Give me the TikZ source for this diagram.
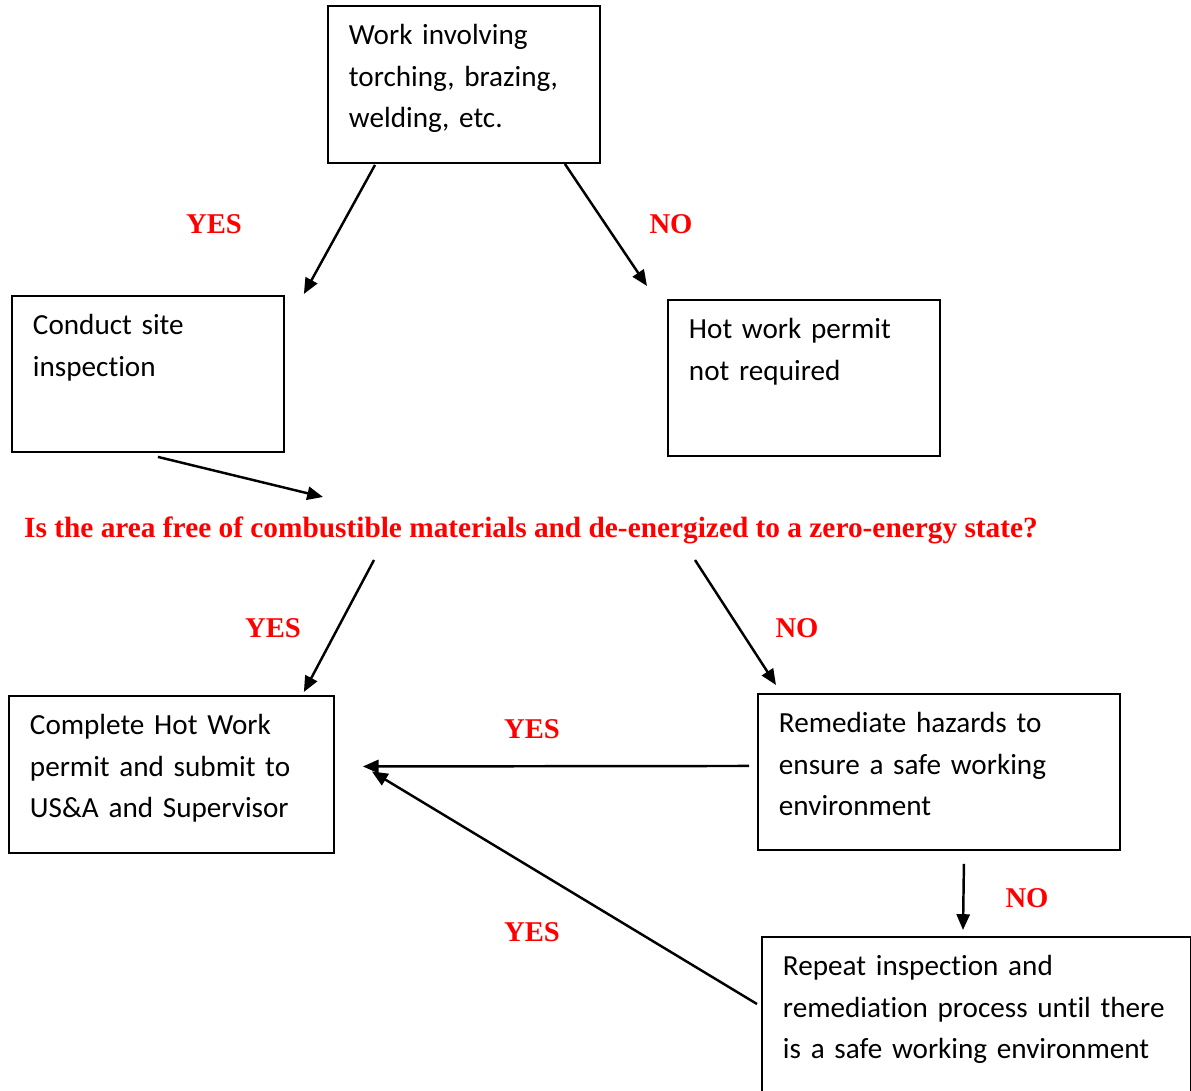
\documentclass[tikz,border=0pt]{standalone}
\usepackage{fontspec}
\usepackage{tikz}
\usetikzlibrary{
    calc,
    arrows.meta
}
\newfontfamily\boxfont{Carlito}[Ligatures=NoCommon]
\newfontfamily\answerfont{Liberation Serif}
\tikzset{
    % step of the chart, text hangs from the top left corner
    stepbox/.style={
        draw, line width=1.1pt, anchor=north west,
        align=left, inner xsep=0.42cm, inner ysep=0.2cm,
        text height=0.58cm,
        font=\boxfont\fontsize{16.6}{23.6}\selectfont
    },
    % red yes/no answers
    answer/.style={
        text=red, inner sep=0pt,
        font=\answerfont\bfseries\fontsize{16.3}{19}\selectfont
    },
    flow/.style={line width=1.4pt, -{Triangle[length=9pt, width=7.5pt]}}
}
\begin{document}
\begin{tikzpicture}[x=0.02cm, y=-0.02cm]
            \useasboundingbox (0,0) rectangle (1191,1090);
            \node[stepbox, text width=4.60cm, text depth=2.16cm] (work) at (327,5)
                {Work involving\\torching, brazing,\\welding, etc.};
            \node[stepbox, text width=4.60cm, text depth=2.14cm] (inspect) at (11,295)
                {Conduct site\\inspection};
            \node[stepbox, text width=4.60cm, text depth=2.14cm] (notneeded) at (667,299)
                {Hot work permit\\not required};
            \node[stepbox, text width=5.66cm, text depth=2.16cm] (permit) at (8,695)
                {Complete Hot Work\\permit and submit to\\US\&A and Supervisor};
            \node[stepbox, text width=6.40cm, text depth=2.14cm] (remedy) at (757,693)
                {Remediate hazards to\\ensure a safe working\\environment};
            \node[stepbox, text width=7.74cm, text depth=2.42cm] (repeat) at (761,936)
                {Repeat inspection and\\remediation process until there\\is a safe working environment};
            \node[answer, anchor=base, font=\answerfont\bfseries\fontsize{16.7}{19}\selectfont]
                (question) at (531,537)
                {Is the area free of combustible materials and de-energized to a zero-energy state?};
            \foreach \name/\x/\y/\word in {yes1/214/224/YES, no1/671/224/NO,
                yes2/273/628/YES, no2/797/628/NO, yes3/532/729/YES,
                no3/1027/898/NO, yes4/532/932/YES} {
                \node[answer] (\name) at (\x,\y) {\word};
            }
            \begin{scope}[flow]
                \draw ($(work.south west)+(48,1)$) -- ($(inspect.north east)+(19,-1)$);
                \draw ($(work.south east)+(-36,0)$) -- ($(notneeded.north west)+(-20,-13)$);
                \draw ($(inspect.south)+(10,4)$) -- ($(question.base)+(-208,-40)$);
                \draw ($(question.base)+(-157,23)$) -- ($(permit.north east)+(-31,-3)$);
                \draw ($(question.base)+(164,23)$) -- ($(remedy.north west)+(19,-8)$);
                \draw ($(remedy.west)+(-8,-6)$) -- ($(permit.east)+(28,-8)$);
                \draw ($(remedy.south)+(25,13)$) -- ($(repeat.north west)+(202,-6)$);
                \draw ($(repeat.north west)+(-4,68)$) -- ($(permit.east)+(37,-3)$);
            \end{scope}
        \end{tikzpicture}
\end{document}
